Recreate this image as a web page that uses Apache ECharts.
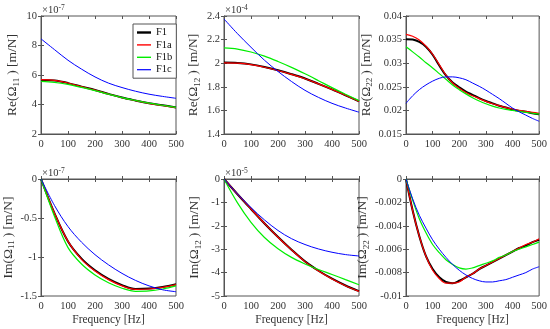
<!DOCTYPE html>
<html><head><meta charset="utf-8">
<script src="https://cdn.jsdelivr.net/npm/echarts@6/dist/echarts.min.js"></script>
<style>html,body{margin:0;padding:0;background:#fff}#c{width:550px;height:329px}</style>
</head><body><div id="c"></div>
<script>
// ---- data ----
const seriesNames = ['F1', 'F1a', 'F1b', 'F1c'];
const freq = [0, 50, 100, 150, 200, 250, 300, 350, 400, 450, 500];
const freqFine = [0, 25, 50, 75, 100, 125, 150, 175, 200, 225, 250, 275, 300, 325, 350, 375, 400, 425, 450, 475, 500];

// Re(Omega11)  x1e-7
const re11_F1  = [5.66, 5.62, 5.45, 5.21, 4.98, 4.72, 4.47, 4.27, 4.09, 3.95, 3.80];
const re11_F1a = [5.68, 5.63, 5.46, 5.21, 4.97, 4.71, 4.46, 4.26, 4.08, 3.93, 3.78];
const re11_F1b = [5.57, 5.50, 5.36, 5.16, 4.94, 4.70, 4.47, 4.27, 4.09, 3.95, 3.81];
const re11_F1c = [8.45, 7.72, 7.00, 6.40, 5.87, 5.45, 5.15, 4.90, 4.70, 4.55, 4.42];

// Re(Omega12)  x1e-4
const re12_F1  = [2.005, 2.002, 1.990, 1.968, 1.940, 1.907, 1.870, 1.825, 1.778, 1.728, 1.677];
const re12_F1a = [2.003, 2.000, 1.988, 1.966, 1.938, 1.905, 1.868, 1.825, 1.778, 1.728, 1.675];
const re12_F1b = [2.130, 2.120, 2.095, 2.060, 2.015, 1.965, 1.910, 1.852, 1.793, 1.737, 1.683];
const re12_F1c = [2.375, 2.250, 2.135, 2.025, 1.930, 1.845, 1.770, 1.710, 1.660, 1.620, 1.585];

// Re(Omega22)
const re22_F1  = [0.0351, 0.0350, 0.0345, 0.0335, 0.0318, 0.0295, 0.0274, 0.0259, 0.0249, 0.0240, 0.0233, 0.0226, 0.0220, 0.0215, 0.0210, 0.0206, 0.0202, 0.0199, 0.0197, 0.0194, 0.0192];
const re22_F1a = [0.0361, 0.0357, 0.0349, 0.0336, 0.0319, 0.0297, 0.0275, 0.0258, 0.0247, 0.0238, 0.0231, 0.0225, 0.0219, 0.0214, 0.0210, 0.0206, 0.0203, 0.0200, 0.0198, 0.0196, 0.0194];
const re22_F1b = [0.0335, 0.0324, 0.0313, 0.0301, 0.0290, 0.0278, 0.0266, 0.0254, 0.0244, 0.0235, 0.0227, 0.0220, 0.0214, 0.0209, 0.0205, 0.0202, 0.0200, 0.0198, 0.0196, 0.0194, 0.0192];
const re22_F1c = [0.0215, 0.0231, 0.0244, 0.0254, 0.0262, 0.0268, 0.0271, 0.0271, 0.0269, 0.0265, 0.0258, 0.0251, 0.0243, 0.0234, 0.0225, 0.0215, 0.0205, 0.0197, 0.0190, 0.0183, 0.0177];

// Im(Omega11)  x1e-7
const im11_F1  = [0, -0.44, -0.80, -1.02, -1.17, -1.28, -1.36, -1.41, -1.405, -1.385, -1.35];
const im11_F1a = [0, -0.44, -0.80, -1.03, -1.18, -1.29, -1.37, -1.415, -1.41, -1.39, -1.355];
const im11_F1b = [0, -0.48, -0.88, -1.09, -1.23, -1.33, -1.40, -1.44, -1.435, -1.41, -1.37];
const im11_F1c = [0, -0.34, -0.61, -0.81, -0.97, -1.10, -1.21, -1.30, -1.37, -1.42, -1.445];

// Im(Omega12)  x1e-5
const im12_F1  = [0, -0.65, -1.28, -1.90, -2.48, -3.02, -3.52, -3.92, -4.26, -4.55, -4.79];
const im12_F1a = [0, -0.65, -1.28, -1.90, -2.49, -3.03, -3.53, -3.93, -4.27, -4.56, -4.80];
const im12_F1b = [0, -1.02, -1.85, -2.50, -2.98, -3.35, -3.63, -3.87, -4.08, -4.30, -4.52];
const im12_F1c = [0, -0.64, -1.22, -1.75, -2.20, -2.55, -2.80, -2.99, -3.13, -3.23, -3.29];

// Im(Omega22)
const im22_F1  = [0, -0.0027, -0.0049, -0.0066, -0.0077, -0.0084, -0.0088, -0.0089, -0.0087, -0.0084, -0.0081, -0.0077, -0.0074, -0.0071, -0.0068, -0.0065, -0.0062, -0.0059, -0.0057, -0.0054, -0.0052];
const im22_F1a = [0, -0.0027, -0.0049, -0.0066, -0.0078, -0.0085, -0.0089, -0.0089, -0.0088, -0.0084, -0.0081, -0.0077, -0.0074, -0.0071, -0.0068, -0.0065, -0.0062, -0.0059, -0.0056, -0.0054, -0.0051];
const im22_F1b = [0, -0.0018, -0.0034, -0.0046, -0.0056, -0.0063, -0.0069, -0.0073, -0.0076, -0.0077, -0.0076, -0.0074, -0.0072, -0.0070, -0.0067, -0.0065, -0.0062, -0.0060, -0.0058, -0.0056, -0.0054];
const im22_F1c = [0, -0.0017, -0.0031, -0.0042, -0.0052, -0.0060, -0.0067, -0.0073, -0.0078, -0.0082, -0.0085, -0.0087, -0.0088, -0.0088, -0.0087, -0.0086, -0.0084, -0.0082, -0.0080, -0.0077, -0.0075];

// axis ranges / labels
const yRanges = [
  { min: 2, max: 10, interval: 2 },
  { min: 1.4, max: 2.4, interval: 0.2 },
  { min: 0.015, max: 0.04, interval: 0.005 },
  { min: -1.5, max: 0, interval: 0.5 },
  { min: -5, max: 0, interval: 1 },
  { min: -0.01, max: 0, interval: 0.002 }
];
const yTitles = ['Re(Ω{s|11}) [m/N]', 'Re(Ω{s|12}) [m/N]', 'Re(Ω{s|22}) [m/N]',
                 'Im(Ω{s|11}) [m/N]', 'Im(Ω{s|12}) [m/N]', 'Im(Ω{s|22}) [m/N]'];
const exponents = ['-7', '-4', null, '-7', '-5', null];
const xTitle = 'Frequency [Hz]';

const panelX = [freq, freq, freqFine, freq, freq, freqFine];
const panelData = [
  [re11_F1, re11_F1a, re11_F1b, re11_F1c],
  [re12_F1, re12_F1a, re12_F1b, re12_F1c],
  [re22_F1, re22_F1a, re22_F1b, re22_F1c],
  [im11_F1, im11_F1a, im11_F1b, im11_F1c],
  [im12_F1, im12_F1a, im12_F1b, im12_F1c],
  [im22_F1, im22_F1a, im22_F1b, im22_F1c]
];

// ---- layout / style ----
const FONT = "'Liberation Serif', 'Times New Roman', serif";
const AX = '#555';
const TXT = '#333';
const lefts = [41, 224, 406];
const tops = [16, 179];
const W = 135, H = 118;
const nameGaps = [20, 22, 31, 24, 21, 31];
const colors = ['#000000', '#ff0000', '#00ee00', '#0000ff'];
const widths = [2, 1.2, 1.2, 1];
const legendIcons = ['path://M0,0H14V2.4H0Z', 'path://M0,0H14V1.4H0Z', 'path://M0,0H14V1.4H0Z', 'path://M0,0H14V1.2H0Z'];

const grids = [], xAxes = [], yAxes = [], series = [], graphics = [];
function fmt(v) { const r = +v.toFixed(6); return String(Math.abs(r) < 1e-12 ? 0 : r); }

for (let p = 0; p < 6; p++) {
  const col = p % 3, row = Math.floor(p / 3);
  grids.push({ left: lefts[col], top: tops[row], width: W, height: H - row,
               show: true, borderColor: AX, borderWidth: 1, backgroundColor: 'transparent' });
  xAxes.push({
    type: 'value', gridIndex: p, min: 0, max: 500, interval: 100, position: 'bottom',
    axisLine: { show: true, lineStyle: { color: AX, width: 1 } },
    axisTick: { show: true, inside: true, length: 3, lineStyle: { color: AX } },
    splitLine: { show: false },
    axisLabel: { color: TXT, fontFamily: FONT, fontSize: 10.5, margin: 5, formatter: fmt },
    name: row === 1 ? xTitle : '', nameLocation: 'middle', nameGap: 18,
    nameTextStyle: { color: TXT, fontFamily: FONT, fontSize: 11.5 }
  });
  xAxes.push({
    type: 'value', gridIndex: p, min: 0, max: 500, interval: 100, position: 'top',
    axisLine: { show: false }, axisLabel: { show: false }, splitLine: { show: false },
    axisTick: { show: true, inside: true, length: 3, lineStyle: { color: AX } }
  });
  const yr = yRanges[p];
  yAxes.push({
    type: 'value', gridIndex: p, min: yr.min, max: yr.max, interval: yr.interval, position: 'left',
    axisLine: { show: true, lineStyle: { color: AX, width: 1 } },
    axisTick: { show: true, inside: true, length: 3, lineStyle: { color: AX } },
    splitLine: { show: false },
    axisLabel: { color: TXT, fontFamily: FONT, fontSize: 10.5, margin: 4, formatter: fmt },
    name: yTitles[p], nameLocation: 'middle', nameGap: nameGaps[p],
    nameTextStyle: { color: TXT, fontFamily: FONT, fontSize: 13.5,
      rich: { s: { fontFamily: FONT, fontSize: 9, color: TXT, verticalAlign: 'bottom', padding: [8, 3, 0, 0] } } }
  });
  yAxes.push({
    type: 'value', gridIndex: p, min: yr.min, max: yr.max, interval: yr.interval, position: 'right',
    axisLine: { show: false }, axisLabel: { show: false }, splitLine: { show: false },
    axisTick: { show: true, inside: true, length: 3, lineStyle: { color: AX } }
  });
  for (let s = 0; s < 4; s++) {
    const xs = panelX[p], ys = panelData[p][s];
    series.push({
      name: seriesNames[s], type: 'line', xAxisIndex: 2 * p, yAxisIndex: 2 * p,
      data: xs.map((x, i) => [x, ys[i]]), smooth: 0.35, symbol: 'none', silent: true,
      lineStyle: { color: colors[s], width: widths[s] }, itemStyle: { color: colors[s] },
      z: 2 + s, animation: false
    });
  }
  if (exponents[p]) {
    graphics.push({
      type: 'text', left: lefts[col] + 1, top: tops[row] - 12, silent: true,
      style: { text: '{b|×10}{e|' + exponents[p] + '}', fill: TXT,
        rich: { b: { fontFamily: FONT, fontSize: 10.5, lineHeight: 12, verticalAlign: 'bottom', fill: TXT },
                e: { fontFamily: FONT, fontSize: 7.5, lineHeight: 7, verticalAlign: 'top', fill: TXT } } }
    });
  }
}

const chart = echarts.init(document.getElementById('c'), null, { renderer: 'canvas' });
chart.setOption({
  animation: false,
  backgroundColor: '#fff',
  grid: grids, xAxis: xAxes, yAxis: yAxes, series: series, graphic: graphics,
  legend: {
    data: seriesNames.map((n, i) => ({ name: n, icon: legendIcons[i] })),
    orient: 'vertical', left: 133, top: 24,
    backgroundColor: '#fff', borderColor: AX, borderWidth: 1, padding: [3, 4, 3, 4],
    itemWidth: 14, itemHeight: 9, itemGap: 1.4,
    textStyle: { fontFamily: FONT, fontSize: 10.5, color: '#111', lineHeight: 10 }
  }
});
</script></body></html>
